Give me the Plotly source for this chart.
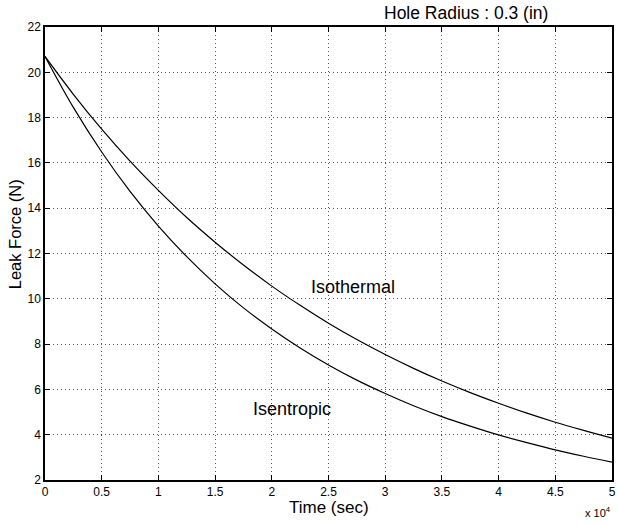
import plotly.graph_objects as go

# Data (time in seconds, force in N)
time_s = [0, 2500, 5000, 7500, 10000, 12500, 15000, 17500, 20000, 22500, 25000,
          27500, 30000, 32500, 35000, 37500, 40000, 42500, 45000, 47500, 50000]
isothermal = [20.70, 19.03, 17.49, 16.08, 14.79, 13.59, 12.50, 11.49, 10.56, 9.71, 8.92,
              8.20, 7.54, 6.93, 6.37, 5.86, 5.39, 4.95, 4.55, 4.19, 3.85]
isentropic = [20.70, 18.45, 16.48, 14.74, 13.21, 11.86, 10.66, 9.60, 8.67, 7.83, 7.08,
              6.41, 5.82, 5.28, 4.80, 4.38, 3.99, 3.65, 3.33, 3.05, 2.79]

x_tickvals = [0, 5000, 10000, 15000, 20000, 25000, 30000, 35000, 40000, 45000, 50000]
x_ticktext = ["0", "0.5", "1", "1.5", "2", "2.5", "3", "3.5", "4", "4.5", "5"]
y_tickvals = [2, 4, 6, 8, 10, 12, 14, 16, 18, 20, 22]

FONT = "Liberation Sans, Arial, Helvetica, sans-serif"

fig = go.Figure()
fig.add_trace(go.Scatter(x=time_s, y=isothermal, mode="lines", name="Isothermal",
                         line=dict(color="black", width=1.2, shape="spline")))
fig.add_trace(go.Scatter(x=time_s, y=isentropic, mode="lines", name="Isentropic",
                         line=dict(color="black", width=1.2, shape="spline")))

axis_common = dict(
    showline=True, linecolor="black", linewidth=1.5, mirror="ticks",
    ticks="inside", ticklen=5, tickcolor="black", tickwidth=1,
    showgrid=True, gridcolor="#555555", griddash="1px,3px", gridwidth=1,
    zeroline=False, ticklabeloverflow="allow",
    tickfont=dict(family=FONT, size=12, color="black"),
)

fig.update_layout(
    width=618, height=525,
    margin=dict(l=45, r=2, t=27, b=45),
    paper_bgcolor="white", plot_bgcolor="white",
    showlegend=False,
    font=dict(family=FONT, color="black"),
    xaxis=dict(range=[0, 50000], tickvals=x_tickvals, ticktext=x_ticktext, **axis_common),
    yaxis=dict(range=[2, 22], tickvals=y_tickvals, **axis_common),
    annotations=[
        dict(text="Hole Radius : 0.3 (in)", xref="paper", yref="paper", x=0.742, y=1.031,
             xanchor="center", yanchor="middle", showarrow=False, font=dict(size=17.5)),
        dict(text="Isothermal", xref="x", yref="y", x=27200, y=10.52,
             xanchor="center", yanchor="middle", showarrow=False, font=dict(size=18)),
        dict(text="Isentropic", xref="x", yref="y", x=21750, y=5.12,
             xanchor="center", yanchor="middle", showarrow=False, font=dict(size=18)),
        dict(text="Time (sec)", xref="paper", yref="paper", x=0.501, y=-0.0618,
             xanchor="center", yanchor="middle", showarrow=False, font=dict(size=17)),
        dict(text="Leak Force (N)", xref="paper", yref="paper", x=-0.0525, y=0.543,
             xanchor="center", yanchor="middle", showarrow=False, textangle=-90,
             font=dict(size=16.5)),
        dict(text="x 10<sup>4</sup>", xref="paper", yref="paper", x=0.975, y=-0.0706,
             xanchor="center", yanchor="middle", showarrow=False, font=dict(size=11)),
    ],
)

# Remove the default page margin so the figure sits at the window's top-left corner.
fig.write_html("out.html", config={"displayModeBar": False},
               post_script="document.body.style.margin='0';")
